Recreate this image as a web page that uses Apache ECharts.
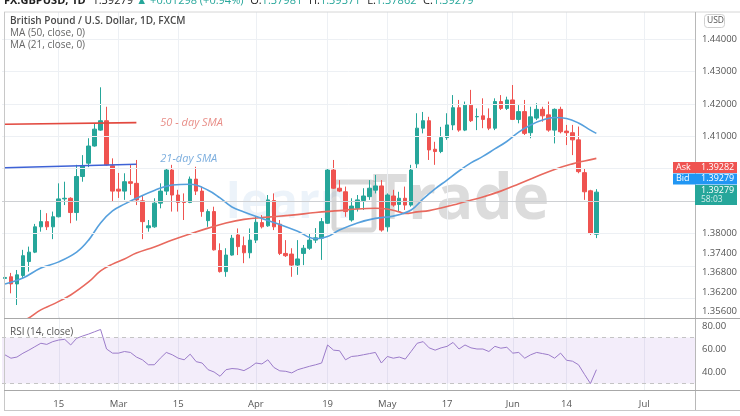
<!DOCTYPE html>
<html><head><meta charset="utf-8">
<script src="https://cdn.jsdelivr.net/npm/echarts@6/dist/echarts.min.js"></script>
<style>html,body{margin:0;padding:0;background:#fff}#c{width:740px;height:416px}</style>
</head><body><div id="c"></div>
<script>
// ---------- data ----------
const categories = [
'2021-02-02','2021-02-03','2021-02-04','2021-02-05','2021-02-08','2021-02-09','2021-02-10','2021-02-11','2021-02-12',
'2021-02-15','2021-02-16','2021-02-17','2021-02-18','2021-02-19','2021-02-22','2021-02-23','2021-02-24','2021-02-25','2021-02-26',
'2021-03-01','2021-03-02','2021-03-03','2021-03-04','2021-03-05','2021-03-08','2021-03-09','2021-03-10','2021-03-11','2021-03-12',
'2021-03-15','2021-03-16','2021-03-17','2021-03-18','2021-03-19','2021-03-22','2021-03-23','2021-03-24','2021-03-25','2021-03-26',
'2021-03-29','2021-03-30','2021-03-31',
'2021-04-01','2021-04-02','2021-04-05','2021-04-06','2021-04-07','2021-04-08','2021-04-09','2021-04-12','2021-04-13','2021-04-14',
'2021-04-15','2021-04-16','2021-04-19','2021-04-20','2021-04-21','2021-04-22','2021-04-23','2021-04-26','2021-04-27','2021-04-28',
'2021-04-29','2021-04-30',
'2021-05-03','2021-05-04','2021-05-05','2021-05-06','2021-05-07','2021-05-10','2021-05-11','2021-05-12','2021-05-13','2021-05-14',
'2021-05-17','2021-05-18','2021-05-19','2021-05-20','2021-05-21','2021-05-24','2021-05-25','2021-05-26','2021-05-27','2021-05-28',
'2021-05-31',
'2021-06-01','2021-06-02','2021-06-03','2021-06-04','2021-06-07','2021-06-08','2021-06-09','2021-06-10','2021-06-11',
'2021-06-14','2021-06-15','2021-06-16','2021-06-17','2021-06-18','2021-06-21','2021-06-22','2021-06-23','2021-06-24','2021-06-25',
'2021-06-28','2021-06-29','2021-06-30',
'2021-07-01','2021-07-02','2021-07-05','2021-07-06','2021-07-07','2021-07-08','2021-07-09','2021-07-12','2021-07-13'
];
const openP = [1.3662,1.3667,1.3645,1.3671,1.3714,1.3743,1.3821,1.3837,1.3821,1.3852,1.3907,1.3909,1.3865,1.3976,1.4017,1.4070,1.4119,1.4148,1.4009,1.3937,
1.3931,1.3960,1.3955,1.3901,1.3818,1.3821,1.3894,1.3931,1.3996,1.3919,1.3899,1.3896,1.3968,1.3931,1.3840,1.3868,1.3748,1.3683,1.3734,1.3796,
1.3763,1.3741,1.3780,1.3834,1.3824,1.3902,1.3829,1.3739,1.3737,1.3703,1.3739,1.3755,1.3780,1.3786,1.3832,1.3996,1.3940,1.3929,1.3842,1.3878,
1.3902,1.3914,1.3934,1.3947,1.3821,1.3916,1.3890,1.3909,1.3888,1.4015,1.4125,1.4148,1.4060,1.4053,1.4096,1.4135,1.4188,1.4119,1.4196,1.4160,
1.4163,1.4155,1.4125,1.4207,1.4186,1.4212,1.4152,1.4176,1.4111,1.4156,1.4183,1.4166,1.4119,1.4183,1.4116,1.4111,1.4089,1.3988,1.3932,1.37981];
const closeP = [1.3665,1.3645,1.3673,1.3732,1.3743,1.3821,1.3837,1.3821,1.3852,1.3907,1.3909,1.3865,1.3976,1.4009,1.4070,1.4122,1.4148,1.4012,1.3931,1.3931,
1.3960,1.3955,1.3904,1.3837,1.3824,1.3894,1.3931,1.3996,1.3919,1.3896,1.3896,1.3968,1.3931,1.3868,1.3868,1.3750,1.3683,1.3734,1.3786,1.3760,
1.3741,1.3780,1.3835,1.3821,1.3904,1.3821,1.3739,1.3732,1.3703,1.3722,1.3755,1.3780,1.3787,1.3837,1.3996,1.3940,1.3931,1.3868,1.3885,1.3904,
1.3916,1.3940,1.3947,1.3811,1.3919,1.3888,1.3909,1.3888,1.3996,1.4125,1.4148,1.4058,1.4053,1.4096,1.4135,1.4188,1.4119,1.4196,1.4148,1.4161,
1.4152,1.4125,1.4207,1.4186,1.4212,1.4152,1.4176,1.4109,1.4160,1.4183,1.4163,1.4119,1.4183,1.4114,1.4111,1.4089,1.3991,1.3929,1.3801,1.39279];
const lowP = [1.3637,1.3616,1.3580,1.3662,1.3683,1.3740,1.3806,1.3811,1.3783,1.3850,1.3888,1.3832,1.3840,1.3960,1.4005,1.4068,1.4117,1.4010,1.3898,1.3910,
1.3904,1.3919,1.3888,1.3783,1.3806,1.3818,1.3878,1.3919,1.3868,1.3868,1.3842,1.3894,1.3919,1.3852,1.3821,1.3748,1.3680,1.3667,1.3732,1.3734,
1.3709,1.3724,1.3771,1.3816,1.3821,1.3811,1.3734,1.3728,1.3667,1.3673,1.3703,1.3750,1.3771,1.3719,1.3830,1.3938,1.3928,1.3852,1.3837,1.3868,
1.3873,1.3904,1.3924,1.3806,1.3806,1.3883,1.3868,1.3873,1.3883,1.4001,1.4109,1.4027,1.4012,1.4048,1.4089,1.4119,1.4114,1.4116,1.4144,1.4119,
1.4125,1.4119,1.4119,1.4181,1.4181,1.4150,1.4140,1.4104,1.4094,1.4150,1.4145,1.4114,1.4078,1.4109,1.4073,1.4042,1.3986,1.3904,1.3796,1.37862];
const highP = [1.3711,1.3679,1.3688,1.3750,1.3760,1.3830,1.3873,1.3863,1.3868,1.3955,1.3960,1.3912,1.4012,1.4042,1.4094,1.4140,1.4251,1.4191,1.4032,1.3987,
1.3986,1.4012,1.4027,1.3919,1.3842,1.3909,1.3955,1.4001,1.4012,1.3935,1.3924,1.3976,1.4006,1.3945,1.3875,1.3883,1.3770,1.3755,1.3796,1.3816,
1.3791,1.3816,1.3852,1.3857,1.3919,1.3924,1.3842,1.3780,1.3755,1.3780,1.3765,1.3801,1.3817,1.3848,1.4002,1.4027,1.3965,1.3945,1.3909,1.3919,
1.3940,1.3965,1.3981,1.3965,1.3924,1.3935,1.3929,1.3945,1.4012,1.4171,1.4175,1.4160,1.4083,1.4129,1.4171,1.4227,1.4212,1.4207,1.4243,1.4186,
1.4217,1.4186,1.4217,1.4227,1.4222,1.4258,1.4196,1.4212,1.4191,1.4202,1.4191,1.4207,1.4186,1.4191,1.4135,1.4135,1.4130,1.4001,1.3935,1.39371];
// moving averages: [bar index, value]
const sma21 = [[0,1.3645],[3,1.3663],[6,1.3694],[9,1.3713],[12,1.3743],[14,1.3780],[16,1.3833],[18,1.3870],[20,1.3891],[22,1.3909],
[25,1.3933],[28,1.3950],[31,1.3952],[34,1.3934],[36,1.3910],[38,1.3882],[40,1.3867],[43,1.3847],[46,1.3828],[49,1.3807],[52,1.3784],
[54,1.3791],[56,1.3811],[59,1.3833],[62,1.3847],[65,1.3854],[68,1.3873],[70,1.3907],[72,1.3938],[74,1.3965],[76,1.3993],[78,1.4018],
[80,1.4038],[82,1.4061],[84,1.4084],[86,1.4113],[88,1.4135],[90,1.4150],[92,1.4158],[94,1.4155],[96,1.4141],[98,1.4119],[99,1.4109]];
const sma50 = [[2,1.3520],[4,1.3540],[6,1.3565],[8,1.3582],[11,1.3611],[14,1.3651],[16,1.3685],[18,1.3706],[20,1.3722],[22,1.3740],
[25,1.3759],[28,1.3780],[31,1.3799],[34,1.3817],[37,1.3833],[40,1.3844],[44,1.3851],[48,1.3857],[52,1.3865],[56,1.3871],[59,1.3876],
[62,1.3878],[64,1.3876],[66,1.3867],[67,1.3862],[69,1.3867],[71,1.3871],[73,1.3879],[75,1.3888],[77,1.3898],[80,1.3913],[83,1.3931],
[86,1.3953],[89,1.3976],[92,1.3998],[95,1.4015],[97,1.4024],[99,1.4032]];
const rsi = [54.9,52,53,56.3,59,62,65,64,66.4,67.8,68.4,63.5,69.3,71.3,73,75,77,60,56.4,56.4,
57.8,57,53,50.6,46.3,46.3,52,57,55,52,50.6,55.5,49,47.8,42,40,36.3,42,43,42.6,
41.2,44,47.8,47,50.6,44,41,40.6,39.2,42,43.5,45,46.3,47.8,63.5,59,58.5,50.6,53.5,54,
55,56,57,47.8,53.5,52,53,51.2,58,65,66.4,61,59,61,62.3,65.7,60,63.5,61,60,
60,57.8,62.3,60.7,61.5,56.4,57,52,55,57,56,55,52,56.4,50.2,49.4,46.3,38,30,42];
// drawn trend lines (annotations) and their captions
const note50Line = [[0,1.4137],[22,1.4142]];
const note21Line = [[0,1.4003],[22,1.4014]];
const notes = [[26,1.4141,'50 - day SMA'],[26,1.4031,'21-day SMA']];
// axis ticks
const priceTicks = [1.356,1.362,1.368,1.374,1.38,1.41,1.42,1.43,1.44];
const priceGrid = [1.356,1.362,1.368,1.374,1.38,1.39,1.40,1.41,1.42,1.43,1.44];
const rsiTicks = [40,60,80];
const xTicks = [['2021-02-15','15'],['2021-03-01','Mar'],['2021-03-15','15'],['2021-04-01','Apr'],['2021-04-19','19'],
['2021-05-03','May'],['2021-05-17','17'],['2021-06-01','Jun'],['2021-06-14','14'],['2021-07-01','Jul']];
const lastPrice = 1.39279, askPrice = 1.39282, bidPrice = 1.39279, countdown = '58:03';
const header = {sym:'FX:GBPUSD, 1D', last:'1.39279', chg:'+0.01298 (+0.94%)', o:'1.37981', h:'1.39371', l:'1.37862', c:'1.39279'};

// ---------- chart ----------
const GREEN = '#26a69a', RED = '#ef5350';
const tickMap = new Map(xTicks);
const near = (v, arr) => arr.some(t => Math.abs(v - t) < 1e-7);
const ohlc = openP.map((o, i) => [o, closeP[i], lowP[i], highP[i]]);
const FONT = 'Open Sans';
const chart = echarts.init(document.getElementById('c'));
const TOP = 12, PB = 318;
const pMin = 1.354, pMax = 1.452 - TOP / 3245;
const option = {
  animation: false,
  textStyle: {fontFamily: FONT},
  grid: [
    {left: 2, top: TOP, width: 693, height: PB - TOP},
    {left: 2, top: 316.8, width: 693, height: 73.6}
  ],
  xAxis: [
    {type: 'category', gridIndex: 0, data: categories, boundaryGap: true,
     axisLine: {show: false}, axisTick: {show: false}, axisLabel: {show: false},
     splitLine: {show: true, alignWithLabel: true, interval: (i, v) => tickMap.has(v), lineStyle: {color: '#edf0f4'}}},
    {type: 'category', gridIndex: 1, data: categories, boundaryGap: true,
     axisLine: {show: false}, axisTick: {show: false},
     axisLabel: {show: true, interval: (i, v) => tickMap.has(v), formatter: v => tickMap.get(v) || '', color: '#555', fontSize: 9.5, margin: 9},
     splitLine: {show: true, alignWithLabel: true, interval: (i, v) => tickMap.has(v), lineStyle: {color: '#edf0f4'}}}
  ],
  yAxis: [
    {type: 'value', gridIndex: 0, position: 'right', min: pMin, max: pMax, interval: 0.002,
     axisLine: {show: false}, axisTick: {show: false}, splitLine: {show: false},
     axisLabel: {color: '#555', fontSize: 9.5, margin: 7, formatter: v => near(v, priceTicks) ? v.toFixed(5) : ''}},
    {type: 'value', gridIndex: 1, position: 'right', min: 24, max: 88, interval: 4,
     axisLine: {show: false}, axisTick: {show: false}, splitLine: {show: false},
     axisLabel: {color: '#555', fontSize: 9.5, margin: 7, formatter: v => near(v, rsiTicks) ? v.toFixed(2) : ''}}
  ],
  series: [
    {type: 'line', xAxisIndex: 0, yAxisIndex: 0, data: [], z: 1, silent: true,
     markLine: {silent: true, symbol: 'none', animation: false, label: {show: false},
       lineStyle: {color: '#edf0f4', type: 'solid', width: 1},
       data: priceGrid.map(v => ({yAxis: v}))}},
    {type: 'line', xAxisIndex: 0, yAxisIndex: 0, data: [], z: 2, silent: true,
     markLine: {silent: true, symbol: 'none', animation: false,
       lineStyle: {color: 'rgba(150,150,150,0.35)', type: 'solid', width: 1},
       label: {show: false},
       data: [{yAxis: lastPrice}]}},
    {type: 'candlestick', xAxisIndex: 0, yAxisIndex: 0, data: ohlc, barWidth: 4, z: 3,
     itemStyle: {color: GREEN, color0: RED, borderColor: GREEN, borderColor0: RED, borderWidth: 1}},
    {type: 'line', xAxisIndex: 0, yAxisIndex: 0, data: sma50.map(d => [categories[d[0]], d[1]]), smooth: 0.4,
     showSymbol: false, z: 4, lineStyle: {color: '#e8695e', width: 1.6}},
    {type: 'line', xAxisIndex: 0, yAxisIndex: 0, data: sma21.map(d => [categories[d[0]], d[1]]), smooth: 0.4,
     showSymbol: false, z: 4, lineStyle: {color: '#56a0dd', width: 1.6}},
    {type: 'line', xAxisIndex: 0, yAxisIndex: 0, data: note50Line.map(d => [categories[d[0]], d[1]]),
     showSymbol: false, z: 5, lineStyle: {color: '#e2493f', width: 1.6}},
    {type: 'line', xAxisIndex: 0, yAxisIndex: 0, data: note21Line.map(d => [categories[d[0]], d[1]]),
     showSymbol: false, z: 5, lineStyle: {color: '#3e62d6', width: 1.6}},
    {type: 'scatter', xAxisIndex: 0, yAxisIndex: 0, symbolSize: 0, z: 6, silent: true,
     data: notes.map((d, k) => ({value: [categories[d[0]], d[1]], label: {
       show: true, position: 'right', distance: 0, formatter: d[2], fontStyle: 'italic', fontSize: 11,
       color: k === 0 ? '#e2726a' : '#5b9ad6'}}))},
    {type: 'line', xAxisIndex: 1, yAxisIndex: 1, data: rsi, showSymbol: false, z: 4,
     lineStyle: {color: '#9b7bc9', width: 1},
     markArea: {silent: true, itemStyle: {color: 'rgba(155,110,215,0.12)'}, data: [[{yAxis: 30}, {yAxis: 70}]]},
     markLine: {silent: true, symbol: 'none', label: {show: false},
       lineStyle: {color: '#c4c4c4', type: [4, 4], width: 1},
       data: [{yAxis: 70}, {yAxis: 30}]}}
  ],
  graphic: [
    // watermark
    {type: 'text', z: 0, silent: true, left: 226, top: 180, style: {text: 'learn', font: 'bold 48px ' + FONT, fill: 'rgba(110,165,220,0.13)'}},
    {type: 'rect', z: 0, silent: true, shape: {x: 334, y: 182, width: 40, height: 48, r: 3}, style: {fill: 'none', stroke: 'rgba(110,110,110,0.28)', lineWidth: 5}},
    {type: 'text', z: 0, silent: true, left: 372, top: 170, style: {text: 'Trade', font: 'bold 62px ' + FONT, fill: 'rgba(120,120,120,0.26)'}},
    // frame
    {type: 'line', z: 50, silent: true, shape: {x1: 4, y1: TOP, x2: 740, y2: TOP}, style: {stroke: '#d6d6d6', lineWidth: 1}},
    {type: 'line', z: 50, silent: true, shape: {x1: 4.5, y1: TOP, x2: 4.5, y2: 410}, style: {stroke: '#c8c8c8', lineWidth: 1}},
    {type: 'line', z: 50, silent: true, shape: {x1: 695.5, y1: TOP, x2: 695.5, y2: 410}, style: {stroke: '#b8b8b8', lineWidth: 1}},
    {type: 'line', z: 50, silent: true, shape: {x1: 4, y1: 318.5, x2: 740, y2: 318.5}, style: {stroke: '#a8a8a8', lineWidth: 1}},
    {type: 'line', z: 50, silent: true, shape: {x1: 4, y1: 390.5, x2: 740, y2: 390.5}, style: {stroke: '#a8a8a8', lineWidth: 1}},
    {type: 'line', z: 50, silent: true, shape: {x1: 4, y1: 410.5, x2: 740, y2: 410.5}, style: {stroke: '#c8c8c8', lineWidth: 1}},
    // header
    {type: 'text', z: 60, left: 4, top: -5, style: {
      text: '{b|' + header.sym + '}  {n|' + header.last + '} {g|▲ ' + header.chg + '}  {n|O:}{g|' + header.o + '}  {n|H:}{g|' + header.h + '}  {n|L:}{g|' + header.l + '}  {n|C:}{g|' + header.c + '}',
      rich: {b: {font: 'bold 11px ' + FONT, fill: '#222'}, n: {font: '11px ' + FONT, fill: '#222'}, g: {font: '11px ' + FONT, fill: GREEN}}}},
    {type: 'text', z: 60, left: 10, top: 16, style: {text: 'British Pound / U.S. Dollar, 1D, FXCM', font: '600 10px ' + FONT, fill: '#4a4a4a'}},
    {type: 'text', z: 60, left: 10, top: 28, style: {text: 'MA (50, close, 0)', font: '10px ' + FONT, fill: '#666'}},
    {type: 'text', z: 60, left: 10, top: 40, style: {text: 'MA (21, close, 0)', font: '10px ' + FONT, fill: '#666'}},
    {type: 'text', z: 60, left: 10, top: 327, style: {text: 'RSI (14, close)', font: '10px ' + FONT, fill: '#555'}},
    // USD badge
    {type: 'rect', z: 60, shape: {x: 704.5, y: 14.5, width: 20, height: 13, r: 3}, style: {fill: '#fff', stroke: '#cfcfcf'}},
    {type: 'text', z: 61, left: 707, top: 16, style: {text: 'USD', font: '8.5px ' + FONT, fill: '#555'}},
    // ask / bid / last price
    {type: 'rect', z: 60, shape: {x: 673, y: 162, width: 64, height: 11}, style: {fill: RED}},
    {type: 'text', z: 61, left: 676, top: 162.5, style: {text: 'Ask', font: '9px ' + FONT, fill: '#fff'}},
    {type: 'text', z: 61, left: 701, top: 162.5, style: {text: askPrice.toFixed(5), font: '9px ' + FONT, fill: '#fff'}},
    {type: 'rect', z: 60, shape: {x: 673, y: 173.5, width: 64, height: 11}, style: {fill: '#2196f3'}},
    {type: 'text', z: 61, left: 676, top: 174, style: {text: 'Bid', font: '9px ' + FONT, fill: '#fff'}},
    {type: 'text', z: 61, left: 701, top: 174, style: {text: bidPrice.toFixed(5), font: '9px ' + FONT, fill: '#fff'}},
    {type: 'rect', z: 60, shape: {x: 695, y: 185, width: 42, height: 20}, style: {fill: GREEN}},
    {type: 'text', z: 61, left: 701, top: 185.5, style: {text: lastPrice.toFixed(5), font: '9px ' + FONT, fill: '#fff'}},
    {type: 'text', z: 61, left: 701, top: 195, style: {text: countdown, font: '8.5px ' + FONT, fill: 'rgba(255,255,255,0.8)'}}
  ]
};
chart.setOption(option);
</script>
</body></html>
